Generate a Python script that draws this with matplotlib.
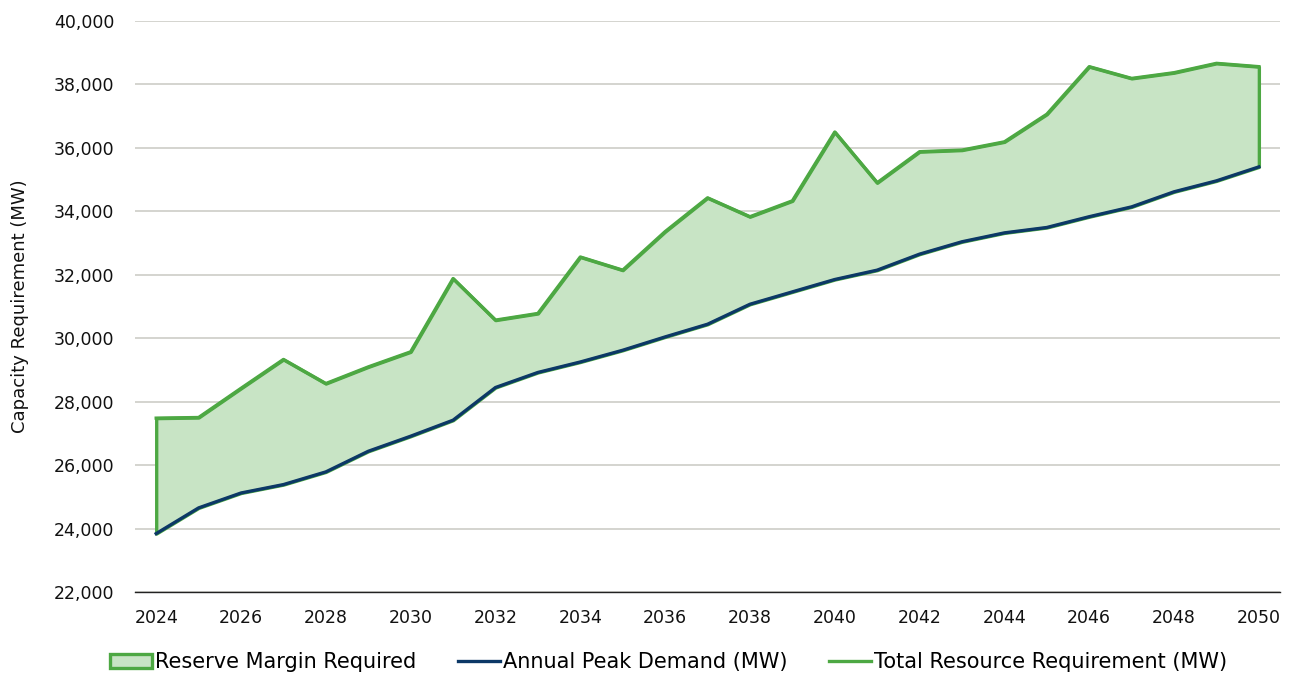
import matplotlib
matplotlib.use("Agg")
import matplotlib.pyplot as plt
from matplotlib.patches import Patch
from matplotlib.lines import Line2D
from matplotlib.ticker import FuncFormatter, MultipleLocator

years = list(range(2024, 2051))
peak_demand = [23840, 24650, 25120, 25385, 25785, 26435, 26910, 27415, 28445, 28920,
               29250, 29620, 30040, 30440, 31070, 31460, 31850, 32145, 32650, 33040,
               33320, 33490, 33830, 34140, 34615, 34960, 35400]
total_requirement = [27480, 27500, 28420, 29330, 28570, 29095, 29570, 31880, 30570, 30780,
                     32560, 32145, 33360, 34425, 33830, 34330, 36500, 34900, 35880, 35930,
                     36190, 37060, 38560, 38190, 38370, 38665, 38560]

labels = ["Reserve Margin Required", "Annual Peak Demand (MW)", "Total Resource Requirement (MW)"]

GREEN = "#4DA843"
FILL = "#C8E4C5"
NAVY = "#0C3866"
GRID = "#C9C9C2"

plt.rcParams['font.family'] = ['DejaVu Sans']
fig = plt.figure(figsize=(12.93, 6.77), dpi=100)
ax = fig.add_axes([0.1044, 0.1256, 0.8856, 0.8434])

ax.fill_between(years, peak_demand, total_requirement, facecolor=FILL,
                edgecolor=GREEN, linewidth=2.4, zorder=2)
ax.plot(years, peak_demand, color=NAVY, linewidth=2.4, zorder=4)
ax.plot(years, total_requirement, color=GREEN, linewidth=2.4, zorder=3)

ax.set_xlim(2023.5, 2050.5)
ax.set_ylim(22000, 40000)
ax.yaxis.set_major_locator(MultipleLocator(2000))
ax.xaxis.set_major_locator(MultipleLocator(2))
ax.yaxis.set_major_formatter(FuncFormatter(lambda v, p: f"{int(v):,}"))
ax.grid(axis='y', color=GRID, linewidth=1.1, zorder=0)
ax.set_axisbelow(True)
for s in ['top', 'right', 'left']:
    ax.spines[s].set_visible(False)
ax.spines['bottom'].set_color('#222222')
ax.spines['bottom'].set_linewidth(1.0)
ax.tick_params(axis='both', length=0, labelsize=12.5, colors='#111111')
ax.tick_params(axis='y', pad=15)
ax.tick_params(axis='x', pad=12)
ax.set_ylabel("Capacity Requirement (MW)", fontsize=13, color='#111111', labelpad=18)

handles = [Patch(facecolor=FILL, edgecolor=GREEN, linewidth=2.4),
           Line2D([0], [0], color=NAVY, linewidth=2.4),
           Line2D([0], [0], color=GREEN, linewidth=2.4)]
fig.legend(handles, labels, loc='center', bbox_to_anchor=(0.517, 0.022), ncol=3,
           frameon=False, fontsize=15, handlelength=2.0, handletextpad=0.15,
           columnspacing=2.0)

fig.savefig("out.png", dpi=100)
